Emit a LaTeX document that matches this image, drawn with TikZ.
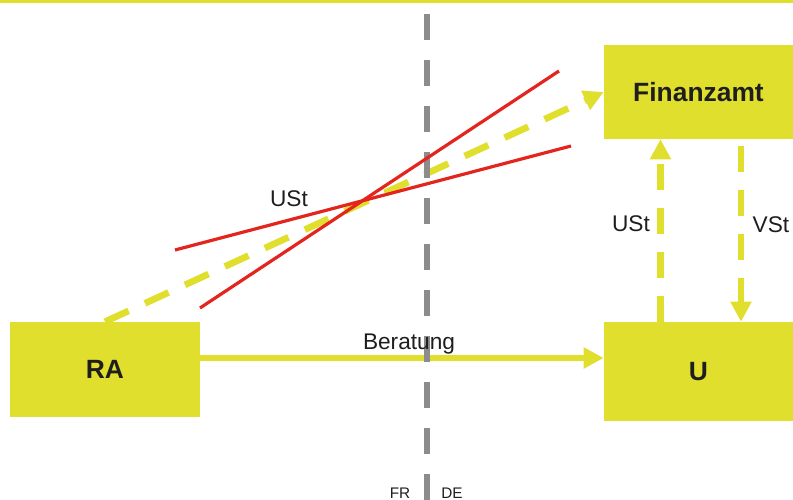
\documentclass[tikz,border=0pt]{standalone}
\usepackage{fontspec}
\setmainfont{Liberation Sans}
\usetikzlibrary{arrows.meta,calc}

\definecolor{boxyellow}{RGB}{225,223,45}
\definecolor{crossred}{RGB}{227,37,30}
\definecolor{bordergray}{RGB}{140,140,140}
\definecolor{textdark}{RGB}{30,30,30}

\begin{document}
\begin{tikzpicture}[
  x=0.75pt, y=-0.75pt,
  every node/.style={font=\fontsize{17}{20}\selectfont, text=textdark},
  party/.style={fill=boxyellow, inner sep=0pt, font=\fontsize{19.8}{24}\selectfont\bfseries},
  flow/.style={draw=boxyellow, line width=4.5pt, -{Triangle[length=15pt,width=15pt]}},
  tax/.style={flow, line width=5pt, dash pattern=on 19.5pt off 13.5pt},
  strike/.style={draw=crossred, line width=2.4pt},
  border/.style={draw=bordergray, line width=5pt, dash pattern=on 19.5pt off 15pt},
  country/.style={font=\fontsize{11.5}{13}\selectfont},
]

% Frame: 1 unit = 1 px of the 793 x 500 picture
\useasboundingbox (0,0) rectangle (793,500);

% Top bar
\fill[boxyellow] (0,0) rectangle (793,3);

% Parties
\node[party, minimum width=142.5pt, minimum height=71.25pt] (RA) at (105,369.5) {RA};
\node[party, minimum width=141.75pt, minimum height=74.25pt] (U) at (698.5,371.5) {U};
\node[party, minimum width=141.75pt, minimum height=70.5pt] (FA) at (698.5,92) {Finanzamt};

% Service and tax flows
\draw[flow] ($(RA.east)+(0,-11.5)$) coordinate (berat0) -- (berat0 -| U.west);
\draw[tax] (RA.north) -- (FA.west);
\draw[tax] ($(U.north)+(-38,0)$) -- ($(FA.south)+(-38,0)$);
\draw[tax] ($(FA.south)+(42.5,7)$) -- ($(U.north)+(42.5,0)$);

% Border FR | DE
\draw[border] (427,14) -- (427,500);

% Crossed-out tax flow
\draw[strike] (175,250) -- (571,146);
\draw[strike] (200,308) -- (559,71);

% Labels
\node (ustcross) at (289,199) {USt};
\node (berat) at (409,344) {Beratung};
\node (ustup) at (631,224) {USt};
\node (vstdown) at (771,225) {VSt};
\node[country] (fr) at (400,493.5) {FR};
\node[country] (de) at (452,493.5) {DE};

\end{tikzpicture}
\end{document}
